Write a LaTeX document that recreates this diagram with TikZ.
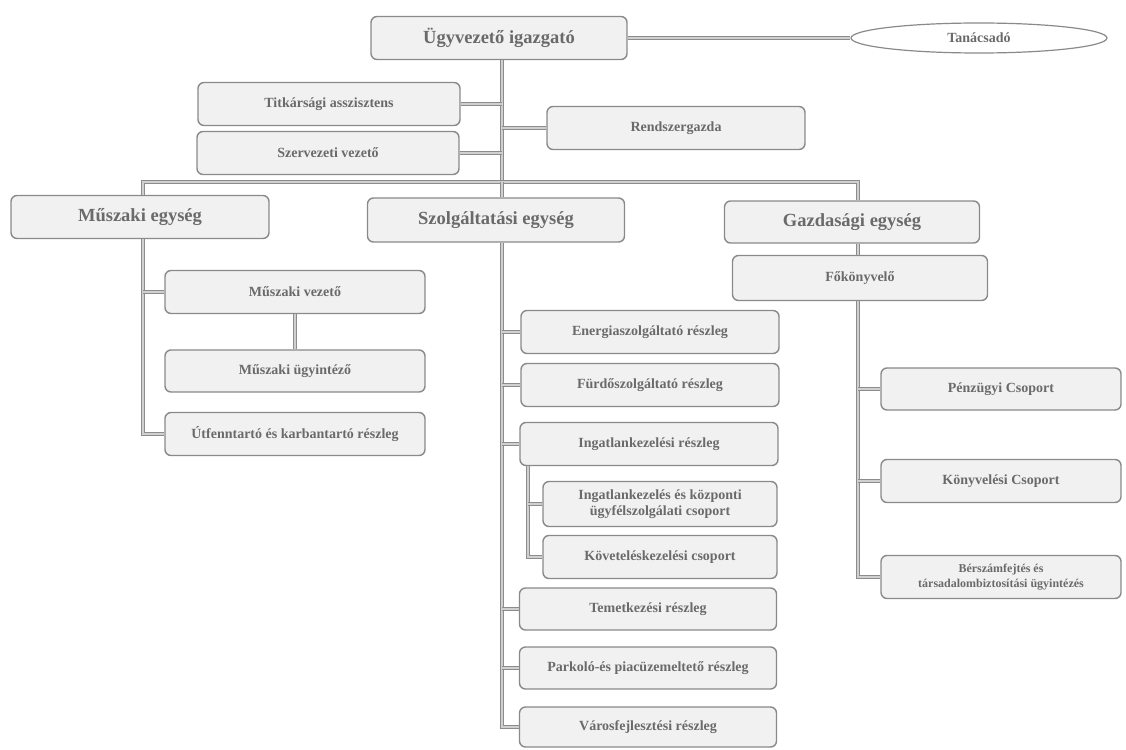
\documentclass[tikz,border=0pt]{standalone}
\usepackage{fontspec}
\setmainfont{Liberation Serif}
\usetikzlibrary{shapes.geometric}
\definecolor{boxline}{HTML}{8A8A8A}
\definecolor{boxfill}{HTML}{F1F1F1}
\definecolor{txt}{HTML}{6A6A6A}
\definecolor{conn}{HTML}{8C8C8C}
\definecolor{connin}{HTML}{D0D0D0}
\tikzset{
  box/.style={draw=boxline, line width=1.4pt, fill=boxfill, rounded corners=6pt,
    text=txt, align=center, inner sep=2pt},
  bigbox/.style={box, font=\bfseries\fontsize{18.5}{22}\selectfont},
  smallbox/.style={box, font=\bfseries\fontsize{14}{16.5}\selectfont},
  tinybox/.style={box, font=\bfseries\fontsize{12}{15}\selectfont},
  oval/.style={ellipse, draw=boxline, line width=1.2pt, fill=white, text=txt,
    font=\bfseries\fontsize{14}{16}\selectfont},
  link/.style={draw=conn, line width=0.7pt, double=connin, double distance=1.8pt}
}
\begin{document}
\begin{tikzpicture}[x=1pt,y=-1pt]
\useasboundingbox[fill=white] (0,0) rectangle (1126,749);

% top level
\node[bigbox, minimum width=256pt, minimum height=43pt] (ceo) at (499,38) {Ügyvezető igazgató};
\node[oval, minimum width=256pt, minimum height=30pt] (ell) at (979,38) {Tanácsadó};
\node[smallbox, minimum width=262pt, minimum height=43pt] (titk) at (329,104) {Titkársági asszisztens};
\node[smallbox, minimum width=262pt, minimum height=43pt] (szerv) at (328,153) {Szervezeti vezető};
\node[smallbox, minimum width=258pt, minimum height=43pt] (rend) at (676,128) {Rendszergazda};

% units
\node[bigbox, minimum width=258pt, minimum height=43pt] (musz) at (140,217) {Műszaki egység};
\node[bigbox, minimum width=257pt, minimum height=44pt] (szolg) at (496,220) {Szolgáltatási egység};
\node[bigbox, minimum width=255pt, minimum height=42pt] (gazd) at (852,222) {Gazdasági egység};

% Műszaki
\node[smallbox, minimum width=260pt, minimum height=43pt] (mvez) at (295,292) {Műszaki vezető};
\node[smallbox, minimum width=260pt, minimum height=42pt] (mugy) at (295,371) {Műszaki ügyintéző};
\node[smallbox, minimum width=260pt, minimum height=43pt] (utf) at (295,434) {Útfenntartó és karbantartó részleg};

% Szolgáltatási
\node[smallbox, minimum width=258pt, minimum height=43pt] (ener) at (650,332) {Energiaszolgáltató részleg};
\node[smallbox, minimum width=258pt, minimum height=43pt] (furd) at (650,385) {Fürdőszolgáltató részleg};
\node[smallbox, minimum width=258pt, minimum height=43pt] (ingr) at (649,444) {Ingatlankezelési részleg};
\node[smallbox, minimum width=234pt, minimum height=45pt] (ingcs) at (660,504) {Ingatlankezelés és központi\\ügyfélszolgálati csoport};
\node[smallbox, minimum width=234pt, minimum height=43pt] (kovcs) at (660,557) {Követeléskezelési csoport};
\node[smallbox, minimum width=257pt, minimum height=42pt] (temet) at (648,609) {Temetkezési részleg};
\node[smallbox, minimum width=257pt, minimum height=42pt] (park) at (648,668) {Parkoló-és piacüzemeltető részleg};
\node[smallbox, minimum width=257pt, minimum height=40pt] (varos) at (648,727) {Városfejlesztési részleg};

% Gazdasági
\node[smallbox, minimum width=255pt, minimum height=45pt] (fokv) at (860,278) {Főkönyvelő};
\node[smallbox, minimum width=240pt, minimum height=42pt] (penz) at (1001,389) {Pénzügyi Csoport};
\node[smallbox, minimum width=240pt, minimum height=43pt] (konyv) at (1001,481) {Könyvelési Csoport};
\node[tinybox, minimum width=240pt, minimum height=43pt] (ber) at (1001,577) {Bérszámfejtés és\\társadalombiztosítási ügyintézés};

% helper coordinates
\coordinate (sp) at (502,0);
\coordinate (bus) at (502,182);
\coordinate (ms) at (143,0);
\coordinate (gs) at (858,0);
\coordinate (is) at (528,0);

% connectors
\draw[link] (ceo.east) -- (ell.west);
\draw[link] (ceo.south -| sp) -- (bus);
\draw[link] (titk.east) -- (titk.east -| sp);
\draw[link] (szerv.east) -- (szerv.east -| sp);
\draw[link] (rend.west) -- (rend.west -| sp);
\draw[link] (musz.north -| ms) |- (bus) -| (gazd.north -| gs);
\draw[link] (bus) -- (szolg.north -| sp);

\draw[link] (musz.south -| ms) |- (utf.west);
\draw[link] (mvez.west -| ms) -- (mvez.west);
\draw[link] (mvez.south) -- (mugy.north);

\draw[link] (szolg.south -| sp) |- (varos.west);
\draw[link] (ener.west -| sp) -- (ener.west);
\draw[link] (furd.west -| sp) -- (furd.west);
\draw[link] (ingr.west -| sp) -- (ingr.west);
\draw[link] (temet.west -| sp) -- (temet.west);
\draw[link] (park.west -| sp) -- (park.west);
\draw[link] (ingr.south -| is) |- (kovcs.west);
\draw[link] (ingcs.west -| is) -- (ingcs.west);

\draw[link] (gazd.south -| gs) -- (fokv.north -| gs);
\draw[link] (fokv.south -| gs) |- (ber.west);
\draw[link] (penz.west -| gs) -- (penz.west);
\draw[link] (konyv.west -| gs) -- (konyv.west);
\end{tikzpicture}
\end{document}
